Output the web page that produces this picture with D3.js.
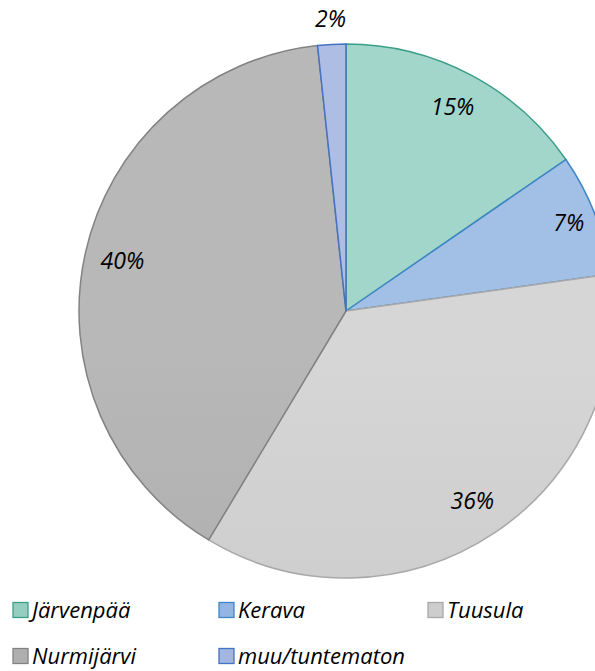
<!DOCTYPE html>
<html>
<head>
<meta charset="UTF-8">
<script src="https://cdn.jsdelivr.net/npm/d3@7"></script>
<style>
  body { margin: 0; background: #fff; }
  text { font-family: "Open Sans", "Noto Sans", sans-serif; font-style: italic; }
</style>
</head>
<body>
<svg id="chart" width="595" height="671"></svg>
<script>
var categories = ["Järvenpää", "Kerava", "Tuusula", "Nurmijärvi", "muu/tuntematon"];
var shares = [15.4, 7.4, 35.8, 39.7, 1.7];
var fillTop = ["#a3d6ca", "#a2bfe6", "#d6d6d6", "#b8b8b8", "#aebde4"];
var fillBottom = ["#84c6b6", "#86a9dc", "#c4c4c4", "#a6a6a6", "#9aaddc"];
var strokes = ["#3a9e88", "#3f86c6", "#a8a8a8", "#828282", "#4472c4"];

var data = categories.map(function(c, i) { return {name: c, value: shares[i], i: i}; });

var svg = d3.select("#chart");
var cx = 346, cy = 311, r = 267;

var defs = svg.append("defs");
data.forEach(function(d) {
  var g = defs.append("linearGradient")
    .attr("id", "g" + d.i)
    .attr("gradientUnits", "userSpaceOnUse")
    .attr("x1", 0).attr("y1", cy - r).attr("x2", 0).attr("y2", cy + r);
  g.append("stop").attr("offset", "0%").attr("stop-color", fillTop[d.i]);
  g.append("stop").attr("offset", "100%").attr("stop-color", fillBottom[d.i]);
});

var pie = d3.pie().sort(null).value(function(d) { return d.value; });
var arcs = pie(data);
var arc = d3.arc().innerRadius(0).outerRadius(r);
var labelArc = d3.arc().innerRadius(229).outerRadius(229);
var outerArc = d3.arc().innerRadius(291).outerRadius(291);
var total = d3.sum(shares);
var fmt = d3.format(".0%");

var g = svg.append("g").attr("transform", "translate(" + cx + "," + cy + ")");

g.selectAll("path.slice")
  .data(arcs)
  .enter().append("path")
  .attr("class", "slice")
  .attr("d", arc)
  .attr("fill", function(d) { return "url(#g" + d.data.i + ")"; })
  .attr("stroke", function(d) { return strokes[d.data.i]; })
  .attr("stroke-width", 1.5)
  .attr("stroke-linejoin", "round");

g.selectAll("text.lab")
  .data(arcs)
  .enter().append("text")
  .attr("class", "lab")
  .attr("transform", function(d) {
    var p = (d.data.value / total < 0.05) ? outerArc.centroid(d) : labelArc.centroid(d);
    if (d.data.i === 1) p = d3.arc().innerRadius(239).outerRadius(239).centroid(d);
    return "translate(" + p[0] + "," + p[1] + ")";
  })
  .attr("text-anchor", "middle")
  .attr("dy", "0.3em")
  .attr("font-size", 23)
  .attr("fill", "#000")
  .text(function(d) { return fmt(d.data.value / total); });

// legend
var legX = [12, 218, 427, 12, 218];
var legY = [610, 610, 610, 656, 656];
var leg = svg.append("g").selectAll("g")
  .data(data)
  .enter().append("g")
  .attr("transform", function(d) { return "translate(" + legX[d.i] + "," + legY[d.i] + ")"; });

leg.append("rect")
  .attr("x", 1).attr("y", -7.5)
  .attr("width", 15).attr("height", 15)
  .attr("fill", function(d) { return d3.interpolateRgb(fillTop[d.i], fillBottom[d.i])(0.5); })
  .attr("stroke", function(d) { return strokes[d.i]; })
  .attr("stroke-width", 1.3);

leg.append("text")
  .attr("x", 20)
  .attr("dy", "0.35em")
  .attr("font-size", 22)
  .attr("fill", "#000")
  .text(function(d) { return d.name; });
</script>
</body>
</html>
